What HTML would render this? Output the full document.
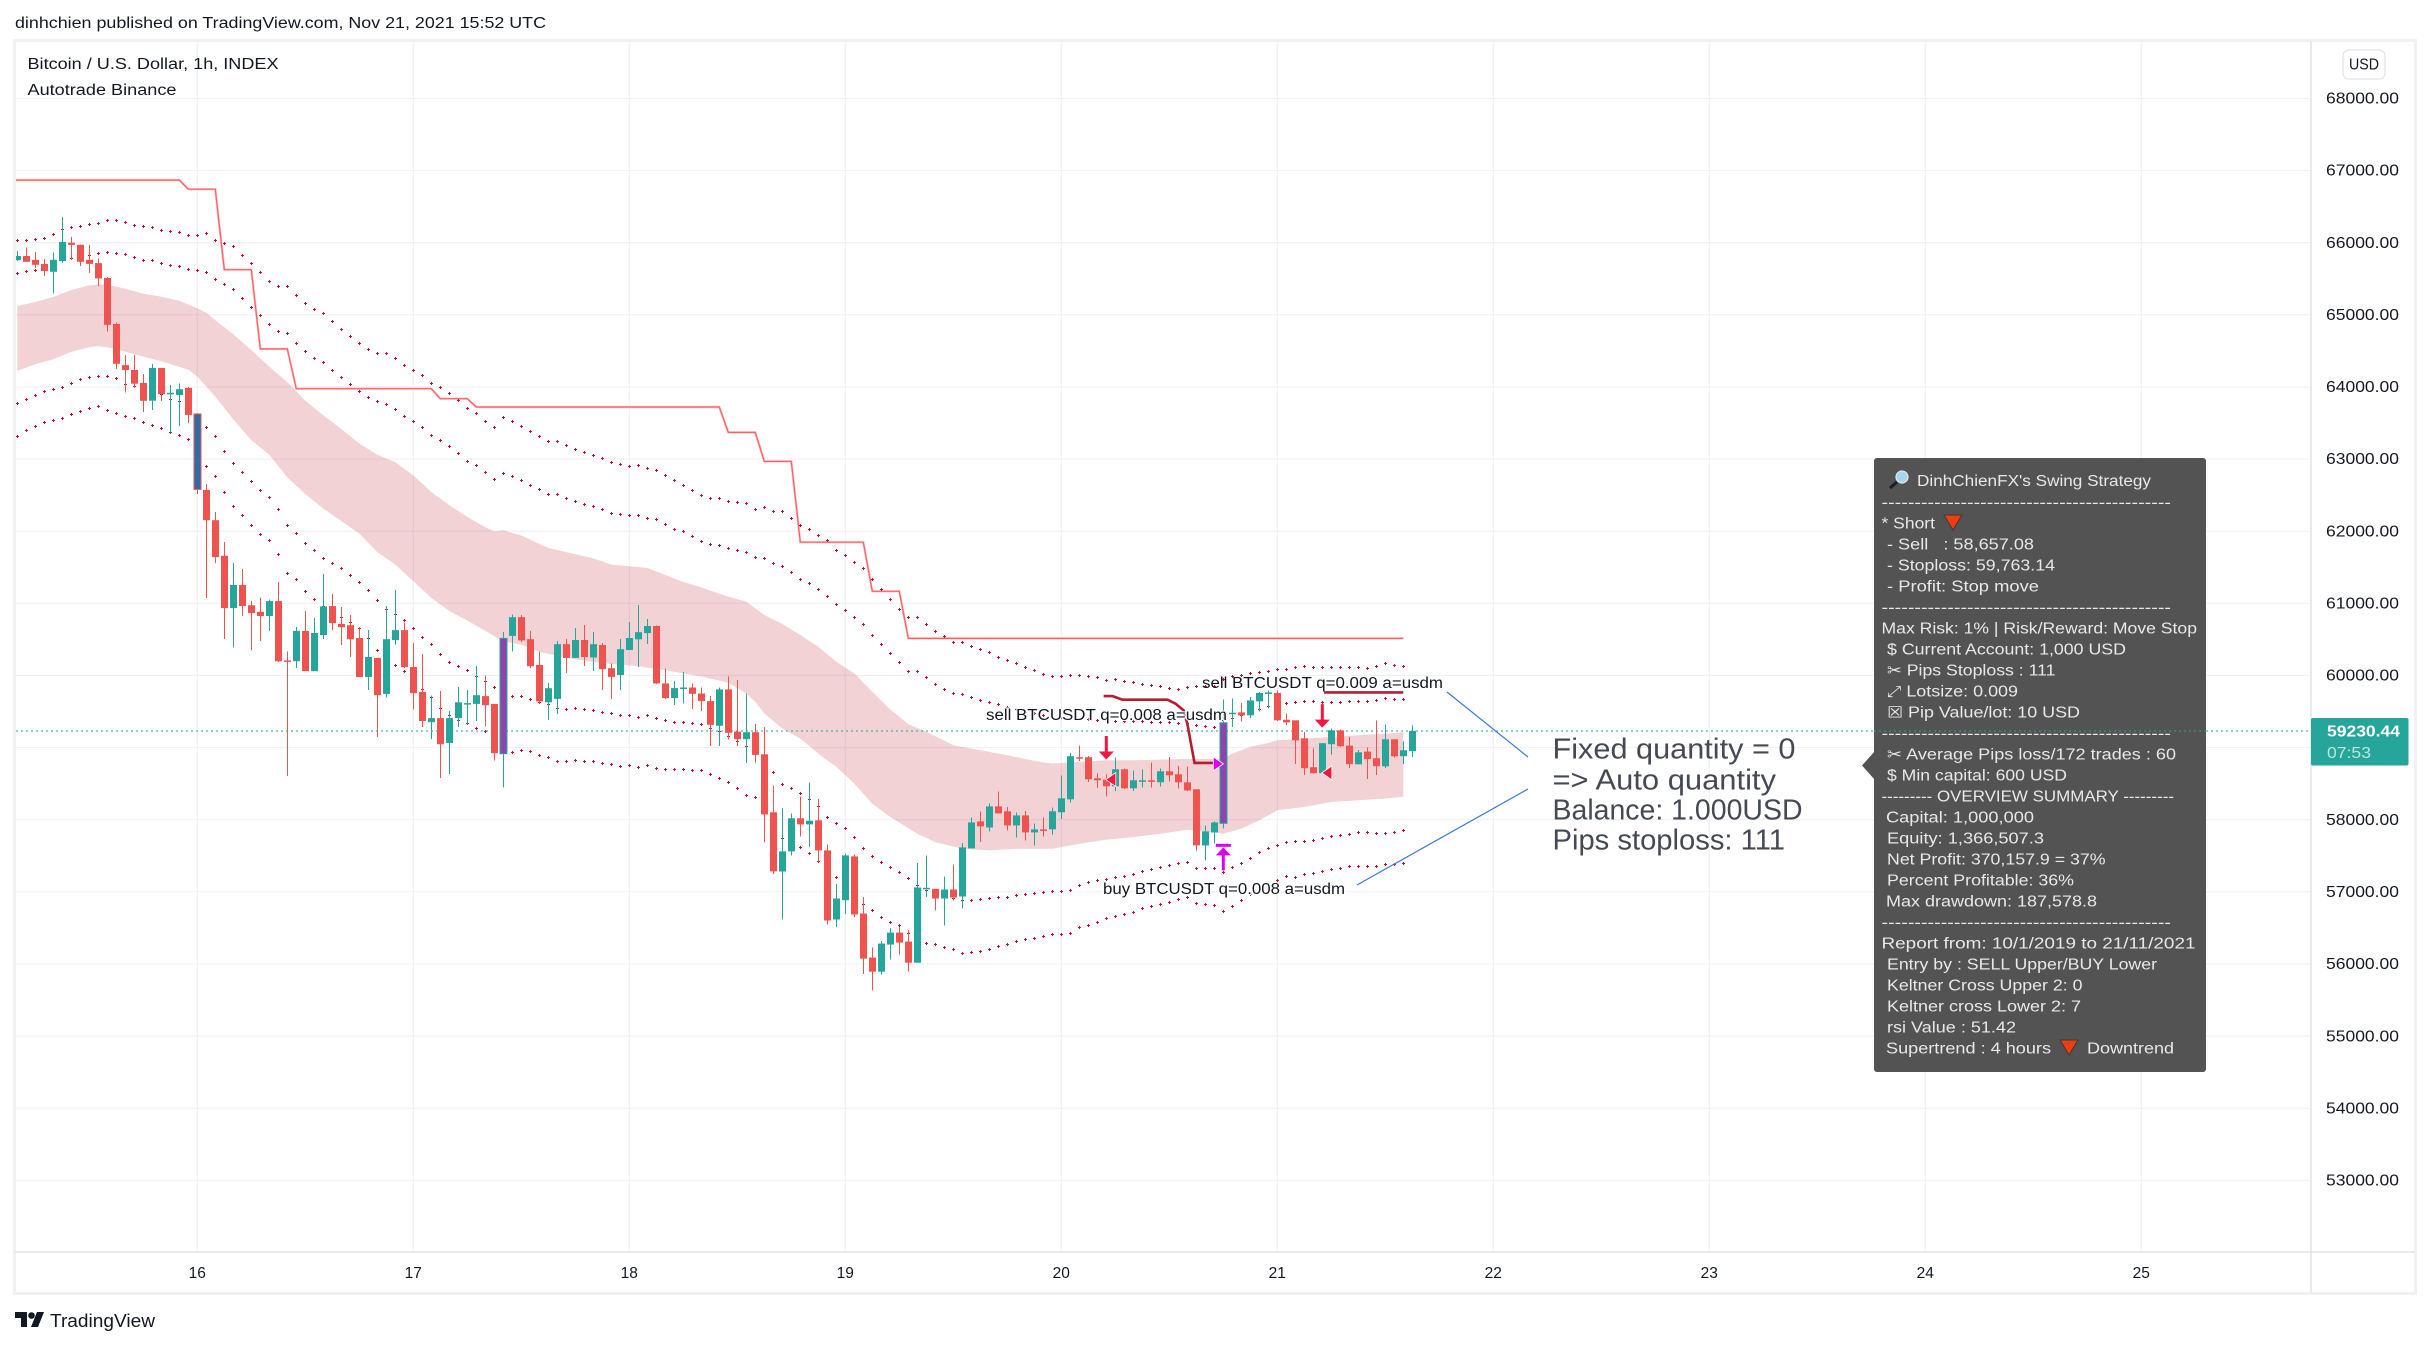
<!DOCTYPE html>
<html>
<head>
<meta charset="utf-8">
<title>BTCUSD chart</title>
<style>
html,body{margin:0;padding:0;background:#fff;}
svg{display:block;}
text{font-family:"Liberation Sans","DejaVu Sans",sans-serif;}
.tip text{fill:#e8e8e8;font-size:15.5px;dominant-baseline:central;transform:translateY(1px);}
.lab{fill:#131722;font-size:15.5px;dominant-baseline:central;transform:translateY(0.7px);}
.halo{paint-order:stroke;stroke:#ffffff;stroke-width:2px;}
.big{fill:#454954;font-size:29px;dominant-baseline:central;transform:translateY(1.5px);}
</style>
</head>
<body>
<svg id="chart" xmlns="http://www.w3.org/2000/svg" width="2431" height="1347" viewBox="0 0 2431 1347">
  <rect x="0" y="0" width="2431" height="1347" fill="#ffffff"/>
  <text class="lab" x="15" y="23" textLength="531" lengthAdjust="spacingAndGlyphs">dinhchien published on TradingView.com, Nov 21, 2021 15:52 UTC</text>
  <g id="grid"></g>
  <g id="band"></g>
  <g id="trend"></g>
  <g id="dots"></g>
  <line id="lastLine" x1="16" x2="2311" stroke="#26a69a" stroke-width="1" stroke-dasharray="2 3"/>
  <g id="candles"></g>
  <g id="orders"></g>
  <g id="markers"></g>

  <rect x="14.5" y="40.5" width="2401" height="1253" fill="none" stroke="#f0f0f5" stroke-width="3"/>
  <line x1="2311" y1="41" x2="2311" y2="1293" stroke="#e4e4e8" stroke-width="1.5"/>
  <line x1="15" y1="1252" x2="2415" y2="1252" stroke="#e4e4e8" stroke-width="1.5"/>
  <g id="axes"></g>

  <text class="lab" x="27.5" y="64" textLength="251" lengthAdjust="spacingAndGlyphs">Bitcoin / U.S. Dollar, 1h, INDEX</text>
  <text class="lab" x="27.5" y="90" textLength="149" lengthAdjust="spacingAndGlyphs">Autotrade Binance</text>

  <rect x="2343" y="50" width="42" height="29" rx="6" fill="#fff" stroke="#dcdce4" stroke-width="1"/>
  <text class="lab" x="2349" y="64.5" textLength="30" lengthAdjust="spacingAndGlyphs">USD</text>

  <text class="lab halo" x="986" y="715" textLength="241" lengthAdjust="spacingAndGlyphs">sell BTCUSDT q=0.008 a=usdm</text>
  <text class="lab" x="1202" y="683" textLength="241" lengthAdjust="spacingAndGlyphs">sell BTCUSDT q=0.009 a=usdm</text>
  <text class="lab halo" x="1103" y="889" textLength="242" lengthAdjust="spacingAndGlyphs">buy BTCUSDT q=0.008 a=usdm</text>

  <line x1="1447" y1="692" x2="1528" y2="757" stroke="#3b78dc" stroke-width="1.2"/>
  <line x1="1357" y1="885" x2="1528" y2="789" stroke="#3b78dc" stroke-width="1.2"/>
  <text class="big" x="1552.5" y="748" textLength="243" lengthAdjust="spacingAndGlyphs">Fixed quantity = 0</text>
  <text class="big" x="1552.5" y="779" textLength="223.5" lengthAdjust="spacingAndGlyphs">=&gt; Auto quantity</text>
  <text class="big" x="1552.5" y="809" textLength="250" lengthAdjust="spacingAndGlyphs">Balance: 1.000USD</text>
  <text class="big" x="1552.5" y="839" textLength="232.5" lengthAdjust="spacingAndGlyphs">Pips stoploss: 111</text>

  <g class="tip">
    <polygon points="1862,765.5 1875,751 1875,780" fill="#535353"/>
    <rect x="1874" y="458" width="332" height="614" rx="3" fill="#535353"/>
    <g>
      <circle cx="1902" cy="477" r="6" fill="#a6d5f2" stroke="#dfe8ee" stroke-width="1.2"/>
      <line x1="1897" y1="482" x2="1890" y2="488" stroke="#1d1d1d" stroke-width="3"/>
    </g>
    <text x="1917" y="480.5" textLength="234" lengthAdjust="spacingAndGlyphs">DinhChienFX's Swing Strategy</text>
    <text x="1881.5" y="502" textLength="289.5" lengthAdjust="spacingAndGlyphs">--------------------------------------------</text>
    <text x="1881.5" y="523" textLength="53.5" lengthAdjust="spacingAndGlyphs">* Short</text>
    <polygon points="1944,515 1962,515 1953,530" fill="#f03c0f" stroke="#3a3a3a" stroke-width="1"/>
    <text x="1887" y="544" textLength="147" lengthAdjust="spacingAndGlyphs">- Sell &#160; : 58,657.08</text>
    <text x="1887" y="565" textLength="168" lengthAdjust="spacingAndGlyphs">- Stoploss: 59,763.14</text>
    <text x="1887" y="586" textLength="152" lengthAdjust="spacingAndGlyphs">- Profit: Stop move</text>
    <text x="1881.5" y="607" textLength="289.5" lengthAdjust="spacingAndGlyphs">--------------------------------------------</text>
    <text x="1881.5" y="628" textLength="315.5" lengthAdjust="spacingAndGlyphs">Max Risk: 1% | Risk/Reward: Move Stop</text>
    <text x="1887" y="649" textLength="239" lengthAdjust="spacingAndGlyphs">$ Current Account: 1,000 USD</text>
    <text x="1887" y="670" textLength="168.5" lengthAdjust="spacingAndGlyphs">✂ Pips Stoploss : 111</text>
    <text x="1887" y="691" textLength="131" lengthAdjust="spacingAndGlyphs">⤢ Lotsize: 0.009</text>
    <text x="1887" y="712" textLength="193" lengthAdjust="spacingAndGlyphs">☒ Pip Value/lot: 10 USD</text>
    <text x="1881.5" y="733" textLength="289.5" lengthAdjust="spacingAndGlyphs">--------------------------------------------</text>
    <text x="1887" y="754" textLength="289" lengthAdjust="spacingAndGlyphs">✂ Average Pips loss/172 trades : 60</text>
    <text x="1887" y="775" textLength="180" lengthAdjust="spacingAndGlyphs">$ Min capital: 600 USD</text>
    <text x="1881.5" y="796" textLength="292.5" lengthAdjust="spacingAndGlyphs">--------- OVERVIEW SUMMARY ---------</text>
    <text x="1886" y="817" textLength="148" lengthAdjust="spacingAndGlyphs">Capital: 1,000,000</text>
    <text x="1887" y="838" textLength="157" lengthAdjust="spacingAndGlyphs">Equity: 1,366,507.3</text>
    <text x="1887" y="859" textLength="218.5" lengthAdjust="spacingAndGlyphs">Net Profit: 370,157.9 = 37%</text>
    <text x="1887" y="880" textLength="187" lengthAdjust="spacingAndGlyphs">Percent Profitable: 36%</text>
    <text x="1886" y="901" textLength="211" lengthAdjust="spacingAndGlyphs">Max drawdown: 187,578.8</text>
    <text x="1881.5" y="922" textLength="289.5" lengthAdjust="spacingAndGlyphs">--------------------------------------------</text>
    <text x="1881.5" y="943" textLength="314" lengthAdjust="spacingAndGlyphs">Report from: 10/1/2019 to 21/11/2021</text>
    <text x="1887" y="964" textLength="270" lengthAdjust="spacingAndGlyphs">Entry by : SELL Upper/BUY Lower</text>
    <text x="1887" y="985" textLength="195.5" lengthAdjust="spacingAndGlyphs">Keltner Cross Upper 2: 0</text>
    <text x="1887" y="1006" textLength="194" lengthAdjust="spacingAndGlyphs">Keltner cross Lower 2: 7</text>
    <text x="1887" y="1027" textLength="129" lengthAdjust="spacingAndGlyphs">rsi Value : 51.42</text>
    <text x="1886" y="1048" textLength="165" lengthAdjust="spacingAndGlyphs">Supertrend : 4 hours</text>
    <polygon points="2060,1040 2078,1040 2069,1055" fill="#f03c0f" stroke="#3a3a3a" stroke-width="1"/>
    <text x="2087" y="1048" textLength="87" lengthAdjust="spacingAndGlyphs">Downtrend</text>
    <line x1="1874" x2="2206" y1="731" y2="731" stroke="#26a69a" stroke-width="1" stroke-dasharray="2 3"/>
  </g>

  <rect x="2311" y="718" width="97.5" height="47.5" rx="2" fill="#26a69a"/>
  <text id="lastText" x="2327" y="732" fill="#ffffff" font-size="15.5" font-weight="bold" dominant-baseline="central" textLength="73" lengthAdjust="spacingAndGlyphs">59230.44</text>
  <text x="2327" y="753.5" fill="#bfe5e0" font-size="15.5" dominant-baseline="central" textLength="44" lengthAdjust="spacingAndGlyphs">07:53</text>

  <g>
    <path d="M15 1312h12v15h-6v-9h-6z M37 1312h7l-6 15h-7z" fill="#131722"/>
    <circle cx="31.5" cy="1315.5" r="3.3" fill="#131722"/>
    <text x="50" y="1321" fill="#131722" font-size="18" dominant-baseline="central" textLength="105" lengthAdjust="spacingAndGlyphs">TradingView</text>
  </g>
</svg>

<script>
const firstHour = -20;
const priceTicks = [68000,67000,66000,65000,64000,63000,62000,61000,60000,59000,58000,57000,56000,55000,54000,53000];
const dayLabels = [16,17,18,19,20,21,22,23,24,25];
const lastPrice = 59230.44;

const opens = [65757,65815,65763,65706,65597,65746,66000,65970,65763,65717,65510,64872,64303,64234,64056,63808,64263,63900,63889,63987,
63624,62572,62152,61658,60933,61255,60974,60882,60824,61031,60209,60197,60617,60059,60560,60962,60715,60697,60519,59979,60243,59743,60491,60629,60117,59772,59352,59409,59065,59409,59605,59605,59714,59605,58915,60548,60807,60502,60146,59628,59674,60433,60243,60491,60249,60422,60100,60007,60353,60502,60588,60685,59889,59685,59815,59833,
59750,59644,59301,59806,59222,59116,59213,58907,58102,57282,57560,58019,57935,57991,57574,56616,56884,57491,56699,56088,55893,56268,56435,56310,56018,57042,57042,56907,57032,56935,57602,57977,57893,58185,58116,57921,58060,57824,57866,57866,58102,58282,58866,58866,58574,58556,58463,58699,58435,58532,58546,58519,58671,58630,58519,58421,57643,57824,57949,
59474,59488,59447,59640,59756,59756,59387,59378,59129,58728,58645,59046,59239,59027,58769,58944,58852,58741,59115,58880,58949];
const closes = [65815,65735,65694,65608,65763,66011,65970,65735,65706,65505,64861,64320,64234,64044,63808,64263,63900,63918,63969,63613,
62578,62152,61641,60933,61255,60962,60864,60824,61031,60197,60197,60617,60059,60588,60956,60726,60669,60502,59979,60255,59726,60502,60629,60117,59755,59369,59409,59047,59409,59628,59617,59726,59588,58921,60514,60807,60485,60128,59640,59823,60433,60243,60491,60255,60433,60088,59979,60364,60519,60600,60686,59889,59685,59824,59833,59745,
59644,59315,59806,59204,59116,59213,58898,58074,57282,57560,58019,57935,57986,57574,56602,56907,57505,56685,56074,55893,56282,56435,56296,56018,57060,57056,56907,57032,56921,57616,57963,57907,58185,58088,57921,58060,57824,57866,57852,58116,58296,58880,58852,58560,58546,58463,58699,58435,58546,58546,58532,58671,58616,58519,58407,57643,57838,57963,59343,
59484,59447,59654,59756,59765,59378,59350,59101,58714,58645,59060,59239,59018,58769,58935,58838,58741,59115,58880,58963,lastPrice];
const highs = [65884,65930,65873,65775,65861,66355,66080,65976,65970,65780,65527,64895,64441,64441,64182,64320,64263,64027,64044,63998,
63636,62653,62267,61847,61560,61474,61031,61077,61054,61296,60335,60669,60893,60795,61405,61129,60951,60836,60675,60629,60243,60962,61186,60732,60450,60295,59720,59783,59507,59841,59795,60128,60002,59605,60600,60847,60836,60617,60335,59893,60479,60502,60657,60697,60600,60450,60169,60502,60738,60974,60784,60695,60097,59926,60046,59889,
59833,59713,59833,59982,59935,59750,59324,59287,58477,58162,58083,58324,58514,58287,57657,57111,57528,57518,56926,56231,56315,56500,56509,56463,57403,57505,57042,57213,57380,57680,58028,58116,58222,58393,58176,58097,58120,57944,58032,58171,58616,58926,59032,58884,58639,58630,58861,58708,58685,58699,58796,58708,58866,58745,58736,58421,57921,57977,59667,
59677,59617,59700,59769,59793,59793,59470,59378,59216,58986,59060,59262,59249,59147,58963,59000,59378,59322,59115,59087,59309];
const lows = [65746,65735,65648,65539,65292,65723,65763,65677,65579,65401,64769,64251,63923,63987,63653,63682,63808,63365,63457,63498,
62515,61071,61560,60502,60387,60824,60353,60479,60617,60186,58604,60100,60059,60059,60502,60629,60422,60255,59979,59795,59145,59697,60427,60100,59525,59283,59116,58576,58633,59283,59323,59369,59295,58823,58449,60335,60462,60100,59611,59381,59467,60031,60243,60128,60059,59795,59674,59795,60353,60117,60433,59880,59676,59588,59611,59532,
59509,59023,59023,59111,59023,58787,58796,57690,57250,56616,57505,57768,57620,57412,56546,56509,56694,56648,55861,55629,55852,56060,56129,55893,56018,56926,56741,56532,56879,56768,57602,57690,57838,58088,57852,57755,57713,57643,57768,57796,58009,58236,58815,58523,58440,58324,58398,58426,58398,58444,58444,58463,58532,58435,58398,57574,57435,57667,57875,
59285,59364,59410,59502,59544,59368,59313,58769,58617,58640,58631,58907,59009,58714,58769,58562,58617,58714,58861,58769,58866];

const upper2 = [66034,66034,66045,66062,66120,66183,66212,66229,66252,66269,66310,66310,66281,66241,66218,66212,66172,66154,66143,66103,
66103,66126,66034,65987,65953,65827,65717,65591,65464,65395,65395,65269,65160,65079,65022,64912,64797,64700,64608,64521,64464,64464,64395,64297,64228,64159,64050,63992,63912,63814,63705,63636,63526,63440,63572,63526,63452,63383,63314,63245,63245,63187,63136,63095,63049,63009,62957,62923,62900,62911,62871,62848,62773,62704,62635,62566,
62495,62453,62453,62416,62398,62384,62301,62328,62273,62273,62176,62078,62023,61940,61870,61731,61662,61565,61481,61328,61189,61056,60917,60801,60801,60708,60607,60537,60458,60458,60398,60361,60320,60250,60204,60167,60111,60065,60014,59982,59982,60005,59995,59982,59972,59935,59945,59921,59903,59875,59857,59843,59824,59810,59829,59843,59852,59843,59950,
59986,60005,60023,60037,60060,60078,60083,60106,60124,60115,60115,60115,60106,60111,60115,60101,60129,60161,60143,60124];
const upper1 = [65573,65602,65620,65666,65735,65746,65780,65804,65827,65850,65867,65855,65838,65792,65757,65752,65711,65689,65666,65625,
65608,65591,65493,65424,65355,65229,65102,64993,64866,64774,64734,64608,64493,64395,64337,64228,64136,64033,63941,63854,63791,63762,63688,63590,63521,63440,63331,63256,63176,63078,62969,62911,62813,62716,62802,62762,62704,62635,62578,62515,62515,62457,62405,62365,62348,62302,62244,62227,62221,62221,62181,62164,62095,62026,61997,61928,
61856,61815,61801,61759,61731,61703,61634,61620,61551,61509,61426,61328,61273,61189,61092,60977,60907,60806,60713,60560,60431,60306,60181,60056,60056,59972,59875,59810,
59756,59733,59700,59654,59631,59599,59562,59525,59493,59470,59447,59424,59414,59405,59396,59387,59378,59378,59355,59359,59355,59355,59345,59341,59345,59332,59332,59308,59295,59285,59378,59401,59447,59493,59525,59571,59608,59617,59631,59640,59636,59627,59627,59631,59640,59636,59645,59654,59682,59663,59663];
const lower1 = [63774,63831,63883,63941,63969,63998,64050,64096,64125,64142,64142,64113,64039,64010,63952,63923,63895,63831,63803,63722,
63624,63440,63314,63107,62940,62814,62693,62566,62469,62302,62083,61968,61836,61733,61623,61554,61485,61388,61284,61181,61037,60916,60847,60761,60652,60525,60433,60289,60174,60123,60065,59985,59921,59829,59669,59709,59703,59663,59628,59599,59542,59530,59542,59530,59513,59484,59467,59444,59444,59415,59444,59409,59375,59352,59346,59329,
59324,59263,59217,59152,59083,59013,58916,58777,58652,58486,58430,58361,58277,58180,58027,57944,57874,57749,57597,57485,57402,57333,57263,57180,57087,57013,57018,56972,56907,56880,56880,56889,56903,56917,56926,56954,56963,56972,56986,57000,57000,57018,57088,57130,57157,57171,57194,57217,57245,57278,57305,57333,57366,57389,57403,57329,57319,57319,57264,
57335,57386,57465,57547,57603,57644,57686,57695,57695,57718,57741,57764,57787,57796,57824,57824,57806,57810,57829,57852];
const lower2 = [63314,63394,63458,63510,63538,63561,63619,63665,63705,63733,63676,63636,63596,63567,63510,63469,63423,63365,63331,63274,
63107,62894,62762,62538,62348,62221,62083,61957,61876,61681,61416,61324,61169,61054,60951,60870,60801,60732,60646,60513,60347,60226,60140,60054,59933,59812,59697,59542,59438,59381,59329,59266,59220,59122,58915,58932,58955,58944,58886,58857,58806,58811,58823,58806,58806,58777,58760,58742,58748,58720,58748,58708,58691,58697,58697,58685,
58680,58625,58569,58513,58430,58333,58305,58106,57920,57736,57666,57611,57527,57425,57319,57194,57087,56958,56824,56741,56648,56579,56532,56416,56347,56278,56264,56231,56199,56139,56162,56171,56203,56240,56273,56305,56333,56347,56375,56402,56402,56426,56500,56532,56579,56625,56657,56680,56717,56764,56796,56824,56856,56889,56916,56833,56819,56810,56722,
56796,56879,56957,57027,57086,57156,57216,57202,57234,57257,57280,57303,57326,57349,57358,57358,57349,57372,57372,57395];

const bandUpperHours = [-20,-18,-16,-14,-12,-11,-10,-8,-6,-4,-2,0,1,2,4,6,8,10,12,14,16,18,20,22,24,26,28,30,32,33,34,36,39,41,44,46,48,50,52,54,56,57,59,61,63,65,67,69,71,73,75,77,79,81,84,87,90,93,95,98,101,104,107,110,113,114,115,117,119,120,123,126,129,132,134];
const bandUpper = [65120,65177,65246,65344,65407,65418,65418,65361,65292,65252,65194,65091,65027,64924,64729,64510,64280,64067,63808,63607,63417,63216,63061,62957,62773,62543,62359,62198,62055,61997,62014,61940,61767,61710,61623,61537,61514,61491,61393,61296,61221,61176,61093,61023,60838,60713,60560,60398,60190,60028,59773,59528,59324,59218,59032,58963,58894,58815,58778,58801,58824,58824,58833,58843,58843,58847,58917,59009,59065,59102,59125,59148,59170,59193,59212];
const bandLowerHours = [-20,-18,-16,-14,-12,-11,-9,-7,-4,-1,0,2,4,6,8,10,12,14,16,18,20,22,24,26,28,30,32,34,36,38,41,44,46,49,52,56,57,59,61,62,63,65,67,69,71,73,75,77,80,82,85,88,91,95,98,101,104,107,110,114,116,118,120,123,126,129,132,134];
const bandLower = [64222,64315,64383,64487,64550,64567,64527,64453,64355,64240,64142,63866,63550,63262,63061,62745,62515,62313,62141,61968,61710,61537,61307,61077,60893,60761,60617,60473,60427,60329,60243,60186,60157,60128,60071,59985,59958,59898,59750,59634,59472,59264,59125,58917,58732,58500,58222,58037,57805,57690,57597,57574,57597,57597,57667,57722,57759,57805,57861,57805,57875,57991,58130,58176,58245,58271,58294,58317];

const trendHours = [-20.2,-2,-1,2,3,6,7,10,11,26,27,30,31,58,59,62,63,66,67,74,75,78,79,134];
const trendPrices = [66868,66868,66741,66741,65625,65625,64527,64527,63975,63975,63837,63837,63722,63722,63370,63370,62967,62967,61847,61847,61166,61166,60514,60514];

const orderLineAHours = [100.7,101.7,102.8,107.8,108.7,109.6,110,110.8,113];
const orderLineAPrices = [59714,59714,59663,59663,59608,59516,59331,58788,58788];
const orderLineBHours = [125.2,134];
const orderLineBPrices = [59765,59765];

const sellArrowHours = [101,125];
const sellArrowTips = [58834,59276];
const exitTriangleHours = [101,125];
const exitTrianglePrices = [58557,58649];
const entryTriangleHours = [114];
const entryTrianglePrices = [58774];
const buyArrowHours = [114];
const buyArrowTips = [57617];

const bluePaintHours = [0];
const purplePaintHours = [34,114];

const NS = 'http://www.w3.org/2000/svg';
function xOf(h){ return 197.3 + 9 * h; }
function yOf(p){ return 98.4 + (68000 - p) * 0.07213; }
function mk(parent, tag){
  const el = document.createElementNS(NS, tag);
  parent.appendChild(el);
  return el;
}
function ptsOf(hours, prices){
  return hours.map(function(h, i){ return xOf(h).toFixed(1) + ',' + yOf(prices[i]).toFixed(1); });
}

/* grid and axes */
const gridG = document.getElementById('grid');
const axesG = document.getElementById('axes');
priceTicks.forEach(function(p){
  const l = mk(gridG, 'line');
  
  
  l.setAttribute('x1', 15); l.setAttribute('x2', 2311);
  l.setAttribute('y1', yOf(p)); l.setAttribute('y2', yOf(p));
  l.setAttribute('stroke', '#f1f1f4'); l.setAttribute('stroke-width', 1.2);
  const t = mk(axesG, 'text');
  
  
  t.setAttribute('class', 'lab');
  t.setAttribute('x', 2326); t.setAttribute('y', yOf(p));
  t.setAttribute('textLength', 73); t.setAttribute('lengthAdjust', 'spacingAndGlyphs');
  t.textContent = p.toFixed(2);
});
dayLabels.forEach(function(d, i){
  const h = i * 24;
  const l = mk(gridG, 'line');
  
  
  l.setAttribute('x1', xOf(h)); l.setAttribute('x2', xOf(h));
  l.setAttribute('y1', 41); l.setAttribute('y2', 1252);
  l.setAttribute('stroke', '#f1f1f4'); l.setAttribute('stroke-width', 1.2);
  const t = mk(axesG, 'text');
  
  
  t.setAttribute('class', 'lab');
  t.setAttribute('x', xOf(h)); t.setAttribute('y', 1273);
  t.setAttribute('text-anchor', 'middle');
  t.textContent = String(d);
});

/* band */
const bandPoly = mk(document.getElementById('band'), 'polygon');


bandPoly.setAttribute('points', ptsOf(bandUpperHours, bandUpper).concat(ptsOf(bandLowerHours, bandLower).reverse()).join(' '));
bandPoly.setAttribute('fill', 'rgba(190,30,38,0.2)');

/* supertrend */
const trendGroup = document.getElementById('trend');
const trendHalo = mk(trendGroup, 'polyline');


trendHalo.setAttribute('points', ptsOf(trendHours, trendPrices).join(' '));
trendHalo.setAttribute('fill', 'none');
trendHalo.setAttribute('stroke', '#ffc4c6');
trendHalo.setAttribute('stroke-width', 2.4);
const trendLine = mk(trendGroup, 'polyline');


trendLine.setAttribute('points', ptsOf(trendHours, trendPrices).join(' '));
trendLine.setAttribute('fill', 'none');
trendLine.setAttribute('stroke', '#fb5f64');
trendLine.setAttribute('stroke-width', 1.2);

/* keltner dots */
const dotsG = document.getElementById('dots');
[upper2, upper1, lower1, lower2].forEach(function(series){
  series.forEach(function(p, i){
    const x = Math.round(xOf(firstHour + i) - 0.5) + 0.5;
    const y = Math.round(yOf(p) - 0.5) + 0.5;
    const d = mk(dotsG, 'path');
    
    
    d.setAttribute('d', 'M' + (x - 1.5) + ' ' + y + 'h3M' + x + ' ' + (y - 1.5) + 'v3');
    d.setAttribute('stroke', '#c0122c');
    d.setAttribute('stroke-width', 1);
    d.setAttribute('shape-rendering', 'crispEdges');
    d.setAttribute('fill', 'none');
  });
});

/* last price */
const lastLine = document.getElementById('lastLine');
lastLine.setAttribute('y1', yOf(lastPrice));
lastLine.setAttribute('y2', yOf(lastPrice));
document.getElementById('lastText').textContent = lastPrice.toFixed(2);

/* candles */
const candleG = document.getElementById('candles');
opens.forEach(function(o, i){
  const h = firstHour + i;
  const c = closes[i];
  const x = Math.round(xOf(h) - 0.5) + 0.5;
  const col = c >= o ? '#26a69a' : '#ef5350';
  const wick = mk(candleG, 'line');
  
  
  wick.setAttribute('x1', x); wick.setAttribute('x2', x);
  wick.setAttribute('y1', yOf(highs[i]).toFixed(1)); wick.setAttribute('y2', yOf(lows[i]).toFixed(1));
  wick.setAttribute('stroke', col); wick.setAttribute('stroke-width', 1);
  wick.setAttribute('shape-rendering', 'crispEdges');
  const top = yOf(Math.max(o, c)), bot = yOf(Math.min(o, c));
  let fill = col;
  if (bluePaintHours.indexOf(h) >= 0) fill = '#2e6da8';
  if (purplePaintHours.indexOf(h) >= 0) fill = '#8e44ad';
  const body = mk(candleG, 'rect');
  
  
  body.setAttribute('x', x - 3.5);
  body.setAttribute('y', top.toFixed(1));
  body.setAttribute('width', 7);
  body.setAttribute('height', Math.max(bot - top, 1.5).toFixed(1));
  body.setAttribute('fill', fill);
  if (fill !== col) {
    body.setAttribute('stroke', col);
    body.setAttribute('stroke-width', 1);
  }
});

/* order lines */
const orderG = document.getElementById('orders');
const orderA = mk(orderG, 'polyline');


orderA.setAttribute('points', ptsOf(orderLineAHours, orderLineAPrices).join(' '));
orderA.setAttribute('fill', 'none');
orderA.setAttribute('stroke', '#b71c2f');
orderA.setAttribute('stroke-width', 2.6);
const orderB = mk(orderG, 'polyline');


orderB.setAttribute('points', ptsOf(orderLineBHours, orderLineBPrices).join(' '));
orderB.setAttribute('fill', 'none');
orderB.setAttribute('stroke', '#b71c2f');
orderB.setAttribute('stroke-width', 2.6);

/* markers */
const markG = document.getElementById('markers');
sellArrowHours.forEach(function(h, i){
  const x = xOf(h), y = yOf(sellArrowTips[i]);
  const a = mk(markG, 'polygon');
  
  
  a.setAttribute('points', [x,y, x-7.5,y-8, x-1.5,y-8, x-1.5,y-23.5, x+1.5,y-23.5, x+1.5,y-8, x+7.5,y-8].join(' '));
  a.setAttribute('fill', '#f7143d');
});
exitTriangleHours.forEach(function(h, i){
  const x = xOf(h) - 0.5, y = yOf(exitTrianglePrices[i]);
  const a = mk(markG, 'polygon');
  
  
  a.setAttribute('points', [x,y, x+10,y-7, x+10,y+7].join(' '));
  a.setAttribute('fill', '#f7143d');
  a.setAttribute('stroke', '#ffffff');
  a.setAttribute('stroke-width', 0.8);
});
entryTriangleHours.forEach(function(h, i){
  const x = xOf(h), y = yOf(entryTrianglePrices[i]);
  const a = mk(markG, 'polygon');
  
  
  a.setAttribute('points', [x,y, x-10,y-7, x-10,y+7].join(' '));
  a.setAttribute('fill', '#d900f5');
  a.setAttribute('stroke', '#ffffff');
  a.setAttribute('stroke-width', 0.8);
});
buyArrowHours.forEach(function(h, i){
  const x = xOf(h), y = yOf(buyArrowTips[i]);
  const a = mk(markG, 'polygon');
  
  
  a.setAttribute('points', [x,y, x+7.5,y+8, x+1.5,y+8, x+1.5,y+23, x-1.5,y+23, x-1.5,y+8, x-7.5,y+8].join(' '));
  a.setAttribute('fill', '#d900f5');
  const b = mk(markG, 'rect');
  
  
  b.setAttribute('x', x - 7.5); b.setAttribute('y', y - 3.5);
  b.setAttribute('width', 15); b.setAttribute('height', 3);
  b.setAttribute('fill', '#d900f5');
});
</script>
</body>
</html>
